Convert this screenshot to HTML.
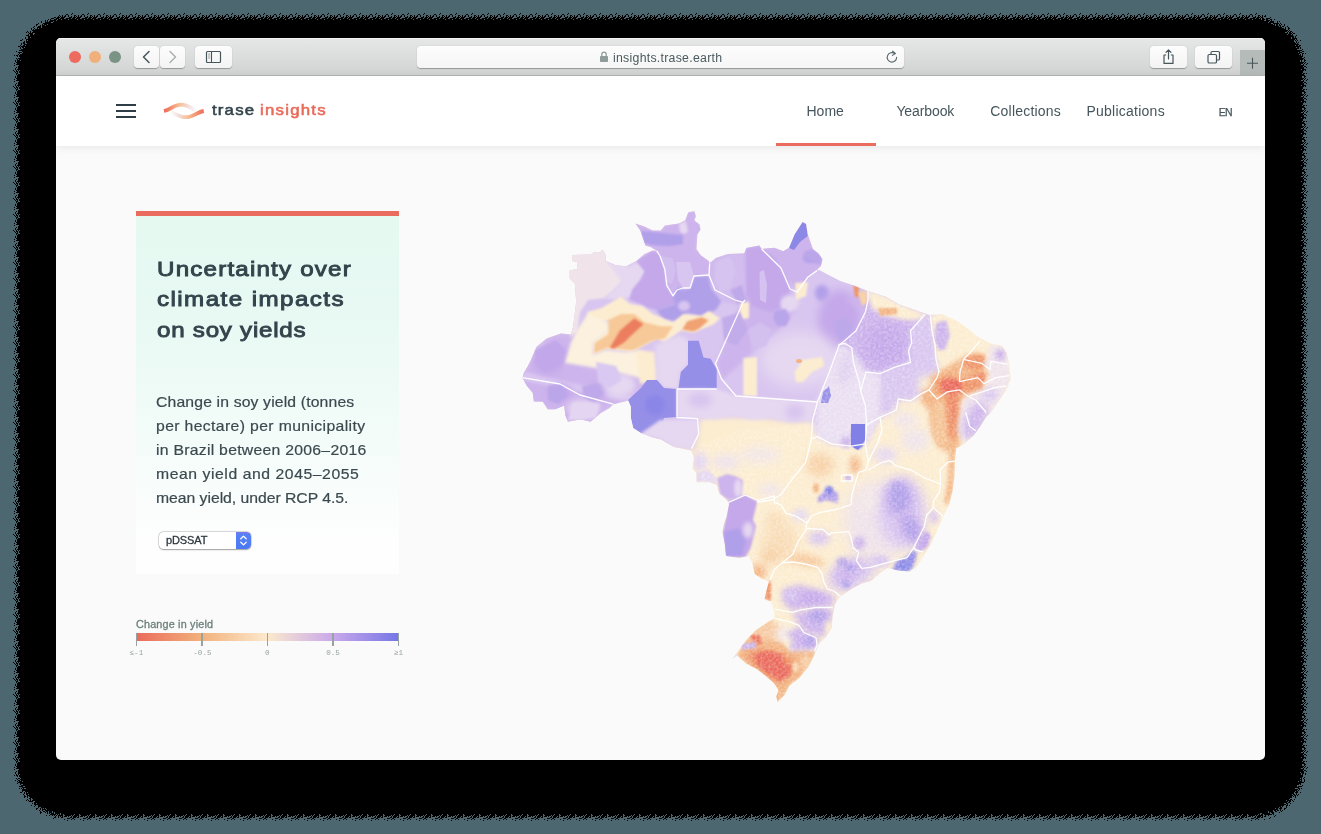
<!DOCTYPE html>
<html lang="en">
<head>
<meta charset="utf-8">
<title>trase insights</title>
<style>
*{box-sizing:border-box;margin:0;padding:0}
html,body{width:1321px;height:834px;overflow:hidden}
body{background:#4c6770;font-family:"Liberation Sans",sans-serif;position:relative}
.abs{position:absolute}
#shadow{left:0;top:0;width:1321px;height:834px}
#win{left:56px;top:38px;width:1209px;height:722px;border-radius:5px;overflow:hidden;background:#fafafa;will-change:transform}
#tb{left:0;top:0;width:1209px;height:38px;background:linear-gradient(#e6e8e7,#d1d3d2);border-bottom:1px solid #b2b7b5;box-shadow:inset 0 1px 0 #f1f2f1}
.tl{width:12px;height:12px;border-radius:50%;top:13px}
.btn{top:8px;height:22px;border-radius:4px;background:linear-gradient(#fdfdfd,#f3f3f3);box-shadow:0 .5px 1px rgba(0,0,0,.3)}
.btn svg{position:absolute;left:0;top:0}
#addr{left:361px;top:8px;width:487px;height:22px;border-radius:4px;background:linear-gradient(#fdfdfd,#f5f5f5);box-shadow:0 .5px 1px rgba(0,0,0,.3)}
#url{left:196px;top:.5px;height:22px;line-height:22px;font-size:12.3px;letter-spacing:.27px;color:#4a5a5e;white-space:nowrap}
#plus{left:1184px;top:12px;width:25px;height:25px;background:#b4bbb9}
#nav{left:0;top:38px;width:1209px;height:70px;background:#fff;box-shadow:0 1px 8px rgba(0,0,0,.085)}
.hb{left:60px;width:20px;height:2px;background:#2e3e47}
.lt{top:23.5px;font-size:15px;line-height:20px;font-weight:normal;white-space:nowrap;transform:scaleX(1.12);transform-origin:0 0}
.nl{top:26.35px;font-size:14px;line-height:18px;color:#45555b;white-space:nowrap}
#ul{left:720px;top:67px;width:100px;height:3px;background:#ea6c5e}
#card{left:80px;top:173px;width:262.6px;height:363px;background:linear-gradient(#e5f9f1 0%,#e8f9f3 30%,#f4fcf9 65%,#fefefe 92%)}
#card .bar{left:0;top:0;width:263px;height:5px;background:#ea6c5e}
.tt{left:20.6px;font-weight:normal;-webkit-text-stroke:.9px #34444c;font-size:21px;line-height:30px;color:#34444c;white-space:nowrap;transform:scaleX(1.15);transform-origin:0 0}
.dd{left:20px;font-size:15px;line-height:24px;color:#3b494f;-webkit-text-stroke:.2px #3b494f;white-space:nowrap;transform:scaleX(1.05);transform-origin:0 0}
#sel{left:23px;top:320.8px;width:91.6px;height:17px;border-radius:4.5px;background:#fff;box-shadow:0 0 0 .5px rgba(0,0,0,.2),0 .5px 1.5px rgba(0,0,0,.3);overflow:hidden}
#sel .t{left:7px;top:-.5px;font-size:11px;line-height:18px;color:#2b373b;letter-spacing:-.1px;-webkit-text-stroke:.3px #2b373b}
#sel .b{right:0;top:0;width:15px;height:17px;background:linear-gradient(#7f78ea 0%,#5680f6 16%,#4a79f5 100%)}
#lg-t{left:80.3px;top:580.1px;font-size:10px;line-height:14px;color:#6c807c;letter-spacing:.17px;-webkit-text-stroke:.3px #6c807c;white-space:nowrap;transform:scaleX(1.08);transform-origin:0 0}
#lg-b{left:80px;top:595.2px;width:263px;height:8px;background:linear-gradient(90deg,#ea6a5c 0%,#f2b27c 25%,#fce9cd 50%,#c9a8ea 75%,#7476e6 100%)}
.tk{top:595.2px;width:1.2px;height:12.8px;background:#97a2a3;margin-left:-.6px}
.tkl{top:609.6px;font-family:"Liberation Mono",monospace;font-size:7.6px;line-height:10px;color:#98a2a2;width:40px;margin-left:-20px;text-align:center;white-space:nowrap}
</style>
</head>
<body>
<svg id="shadow" class="abs" width="1321" height="834" viewBox="0 0 1321 834" shape-rendering="crispEdges">
<defs><pattern id="d1" width="16" height="16" patternUnits="userSpaceOnUse"><path d="M0 0h5v1h-5zM7 0h9v1h-9zM0 1h1v1h-1zM3 1h13v1h-13zM0 2h1v1h-1zM2 2h5v1h-5zM8 2h8v1h-8zM0 3h4v1h-4zM5 3h8v1h-8zM14 3h2v1h-2zM1 4h7v1h-7zM9 4h7v1h-7zM0 5h5v1h-5zM6 5h8v1h-8zM15 5h1v1h-1zM0 6h3v1h-3zM4 6h7v1h-7zM12 6h4v1h-4zM0 7h7v1h-7zM9 7h7v1h-7zM0 8h2v1h-2zM3 8h8v1h-8zM12 8h4v1h-4zM0 9h3v1h-3zM4 9h10v1h-10zM15 9h1v1h-1zM0 10h9v1h-9zM10 10h2v1h-2zM13 10h3v1h-3zM0 11h9v1h-9zM11 11h5v1h-5zM0 12h4v1h-4zM5 12h1v1h-1zM7 12h9v1h-9zM0 13h12v1h-12zM14 13h2v1h-2zM0 14h10v1h-10zM11 14h4v1h-4zM1 15h14v1h-14z" fill="#000"/></pattern><pattern id="d2" width="16" height="16" patternUnits="userSpaceOnUse"><path d="M0 0h3v1h-3zM4 0h1v1h-1zM7 0h6v1h-6zM14 0h2v1h-2zM0 1h1v1h-1zM4 1h4v1h-4zM9 1h7v1h-7zM2 2h5v1h-5zM8 2h3v1h-3zM12 2h4v1h-4zM0 3h4v1h-4zM6 3h3v1h-3zM10 3h3v1h-3zM14 3h2v1h-2zM2 4h6v1h-6zM9 4h1v1h-1zM11 4h5v1h-5zM0 5h4v1h-4zM6 5h5v1h-5zM12 5h2v1h-2zM15 5h1v1h-1zM0 6h1v1h-1zM2 6h1v1h-1zM4 6h1v1h-1zM6 6h5v1h-5zM12 6h4v1h-4zM0 7h2v1h-2zM3 7h4v1h-4zM9 7h6v1h-6zM0 8h2v1h-2zM3 8h4v1h-4zM8 8h3v1h-3zM12 8h2v1h-2zM15 8h1v1h-1zM0 9h2v1h-2zM4 9h2v1h-2zM7 9h7v1h-7zM15 9h1v1h-1zM0 10h4v1h-4zM5 10h4v1h-4zM10 10h2v1h-2zM13 10h2v1h-2zM1 11h8v1h-8zM11 11h2v1h-2zM14 11h2v1h-2zM0 12h4v1h-4zM5 12h1v1h-1zM7 12h5v1h-5zM13 12h1v1h-1zM15 12h1v1h-1zM0 13h6v1h-6zM7 13h3v1h-3zM11 13h1v1h-1zM14 13h2v1h-2zM0 14h8v1h-8zM9 14h1v1h-1zM11 14h1v1h-1zM13 14h2v1h-2zM1 15h6v1h-6zM8 15h1v1h-1zM10 15h5v1h-5z" fill="#000"/></pattern><pattern id="d3" width="16" height="16" patternUnits="userSpaceOnUse"><path d="M0 0h3v1h-3zM4 0h1v1h-1zM7 0h1v1h-1zM9 0h4v1h-4zM14 0h1v1h-1zM0 1h1v1h-1zM5 1h3v1h-3zM9 1h3v1h-3zM13 1h3v1h-3zM2 2h4v1h-4zM8 2h3v1h-3zM12 2h1v1h-1zM14 2h2v1h-2zM0 3h1v1h-1zM2 3h2v1h-2zM6 3h2v1h-2zM10 3h3v1h-3zM14 3h2v1h-2zM2 4h4v1h-4zM7 4h1v1h-1zM9 4h1v1h-1zM11 4h3v1h-3zM15 4h1v1h-1zM1 5h3v1h-3zM6 5h4v1h-4zM12 5h2v1h-2zM15 5h1v1h-1zM0 6h1v1h-1zM2 6h1v1h-1zM4 6h1v1h-1zM6 6h4v1h-4zM13 6h3v1h-3zM0 7h2v1h-2zM3 7h1v1h-1zM6 7h1v1h-1zM9 7h6v1h-6zM0 8h2v1h-2zM3 8h4v1h-4zM8 8h1v1h-1zM10 8h1v1h-1zM12 8h1v1h-1zM15 8h1v1h-1zM0 9h2v1h-2zM4 9h2v1h-2zM7 9h2v1h-2zM10 9h4v1h-4zM0 10h1v1h-1zM2 10h2v1h-2zM5 10h4v1h-4zM10 10h1v1h-1zM13 10h2v1h-2zM1 11h1v1h-1zM4 11h5v1h-5zM11 11h2v1h-2zM14 11h2v1h-2zM1 12h3v1h-3zM5 12h1v1h-1zM8 12h4v1h-4zM13 12h1v1h-1zM15 12h1v1h-1zM0 13h2v1h-2zM3 13h3v1h-3zM8 13h2v1h-2zM11 13h1v1h-1zM14 13h2v1h-2zM0 14h8v1h-8zM9 14h1v1h-1zM13 14h1v1h-1zM1 15h2v1h-2zM4 15h1v1h-1zM6 15h1v1h-1zM8 15h1v1h-1zM10 15h5v1h-5z" fill="#000"/></pattern><pattern id="d4" width="16" height="16" patternUnits="userSpaceOnUse"><path d="M0 0h2v1h-2zM4 0h1v1h-1zM7 0h1v1h-1zM10 0h1v1h-1zM12 0h1v1h-1zM14 0h1v1h-1zM6 1h2v1h-2zM9 1h3v1h-3zM13 1h2v1h-2zM2 2h4v1h-4zM8 2h2v1h-2zM12 2h1v1h-1zM0 3h1v1h-1zM2 3h1v1h-1zM6 3h2v1h-2zM10 3h3v1h-3zM2 4h4v1h-4zM7 4h1v1h-1zM13 4h1v1h-1zM15 4h1v1h-1zM3 5h1v1h-1zM6 5h4v1h-4zM13 5h1v1h-1zM15 5h1v1h-1zM0 6h1v1h-1zM2 6h1v1h-1zM6 6h1v1h-1zM9 6h1v1h-1zM13 6h3v1h-3zM0 7h2v1h-2zM6 7h1v1h-1zM11 7h4v1h-4zM1 8h1v1h-1zM3 8h3v1h-3zM10 8h1v1h-1zM12 8h1v1h-1zM15 8h1v1h-1zM0 9h1v1h-1zM4 9h2v1h-2zM8 9h1v1h-1zM10 9h3v1h-3zM0 10h1v1h-1zM2 10h2v1h-2zM7 10h1v1h-1zM10 10h1v1h-1zM13 10h2v1h-2zM1 11h1v1h-1zM5 11h1v1h-1zM8 11h1v1h-1zM11 11h2v1h-2zM14 11h2v1h-2zM1 12h2v1h-2zM5 12h1v1h-1zM8 12h2v1h-2zM13 12h1v1h-1zM15 12h1v1h-1zM1 13h1v1h-1zM3 13h2v1h-2zM8 13h2v1h-2zM11 13h1v1h-1zM15 13h1v1h-1zM0 14h1v1h-1zM2 14h2v1h-2zM5 14h3v1h-3zM9 14h1v1h-1zM1 15h1v1h-1zM4 15h1v1h-1zM6 15h1v1h-1zM8 15h1v1h-1zM10 15h2v1h-2zM14 15h1v1h-1z" fill="#000"/></pattern><pattern id="d5" width="16" height="16" patternUnits="userSpaceOnUse"><path d="M0 0h2v1h-2zM10 0h1v1h-1zM12 0h1v1h-1zM14 0h1v1h-1zM6 1h2v1h-2zM10 1h1v1h-1zM13 1h2v1h-2zM3 2h3v1h-3zM8 2h2v1h-2zM0 3h1v1h-1zM6 3h2v1h-2zM10 3h2v1h-2zM2 4h2v1h-2zM5 4h1v1h-1zM13 4h1v1h-1zM15 4h1v1h-1zM3 5h1v1h-1zM7 5h1v1h-1zM9 5h1v1h-1zM13 5h1v1h-1zM15 5h1v1h-1zM0 6h1v1h-1zM2 6h1v1h-1zM6 6h1v1h-1zM9 6h1v1h-1zM13 6h1v1h-1zM0 7h1v1h-1zM6 7h1v1h-1zM11 7h2v1h-2zM14 7h1v1h-1zM1 8h1v1h-1zM4 8h2v1h-2zM12 8h1v1h-1zM15 8h1v1h-1zM4 9h1v1h-1zM8 9h1v1h-1zM10 9h3v1h-3zM0 10h1v1h-1zM2 10h1v1h-1zM7 10h1v1h-1zM13 10h2v1h-2zM1 11h1v1h-1zM5 11h1v1h-1zM8 11h1v1h-1zM11 11h2v1h-2zM2 12h1v1h-1zM5 12h1v1h-1zM8 12h2v1h-2zM15 12h1v1h-1zM1 13h1v1h-1zM3 13h2v1h-2zM8 13h1v1h-1zM15 13h1v1h-1zM2 14h2v1h-2zM6 14h2v1h-2zM9 14h1v1h-1zM1 15h1v1h-1zM4 15h1v1h-1zM10 15h2v1h-2zM14 15h1v1h-1z" fill="#000"/></pattern><pattern id="d6" width="16" height="16" patternUnits="userSpaceOnUse"><path d="M0 0h1v1h-1zM10 0h1v1h-1zM12 0h1v1h-1zM6 1h1v1h-1zM13 1h2v1h-2zM3 2h3v1h-3zM0 3h1v1h-1zM7 3h1v1h-1zM10 3h1v1h-1zM2 4h2v1h-2zM5 4h1v1h-1zM9 5h1v1h-1zM13 5h1v1h-1zM15 5h1v1h-1zM6 6h1v1h-1zM9 6h1v1h-1zM13 6h1v1h-1zM6 7h1v1h-1zM11 7h1v1h-1zM14 7h1v1h-1zM4 8h2v1h-2zM12 8h1v1h-1zM4 9h1v1h-1zM10 9h1v1h-1zM12 9h1v1h-1zM0 10h1v1h-1zM2 10h1v1h-1zM7 10h1v1h-1zM1 11h1v1h-1zM8 11h1v1h-1zM11 11h1v1h-1zM8 12h2v1h-2zM15 12h1v1h-1zM1 13h1v1h-1zM8 13h1v1h-1zM15 13h1v1h-1zM2 14h2v1h-2zM7 14h1v1h-1zM1 15h1v1h-1zM11 15h1v1h-1zM14 15h1v1h-1z" fill="#000"/></pattern><pattern id="d7" width="16" height="16" patternUnits="userSpaceOnUse"><path d="M10 0h1v1h-1zM6 1h1v1h-1zM5 2h1v1h-1zM0 3h1v1h-1zM3 4h1v1h-1zM9 5h1v1h-1zM13 6h1v1h-1zM14 7h1v1h-1zM4 8h1v1h-1zM12 9h1v1h-1zM7 10h1v1h-1zM1 11h1v1h-1zM15 12h1v1h-1zM8 13h1v1h-1zM2 14h1v1h-1zM11 15h1v1h-1z" fill="#000"/></pattern></defs>
<rect x="20" y="20" width="1281" height="794" rx="48" ry="48" fill="#000"/>
<rect x="19.5" y="19.5" width="1282" height="795" rx="48.5" ry="48.5" fill="none" stroke="url(#d1)" stroke-width="1"/><rect x="18.5" y="18.5" width="1284" height="797" rx="49.5" ry="49.5" fill="none" stroke="url(#d2)" stroke-width="1"/><rect x="17.5" y="17.5" width="1286" height="799" rx="50.5" ry="50.5" fill="none" stroke="url(#d3)" stroke-width="1"/><rect x="16.5" y="16.5" width="1288" height="801" rx="51.5" ry="51.5" fill="none" stroke="url(#d4)" stroke-width="1"/><rect x="15.5" y="15.5" width="1290" height="803" rx="52.5" ry="52.5" fill="none" stroke="url(#d5)" stroke-width="1"/><rect x="14.5" y="14.5" width="1292" height="805" rx="53.5" ry="53.5" fill="none" stroke="url(#d6)" stroke-width="1"/><rect x="13.5" y="13.5" width="1294" height="807" rx="54.5" ry="54.5" fill="none" stroke="url(#d7)" stroke-width="1"/>
</svg>
<div id="win" class="abs">
  <div id="tb" class="abs">
    <div class="abs tl" style="left:13px;background:#ec6a5e"></div>
    <div class="abs tl" style="left:33px;background:#f0b07b"></div>
    <div class="abs tl" style="left:53px;background:#7a9384"></div>
    <div class="abs btn" style="left:78px;width:25px"><svg width="25" height="22"><path d="M15 5.5 L9.5 11 L15 16.5" fill="none" stroke="#46565b" stroke-width="1.5" stroke-linecap="round" stroke-linejoin="round"/></svg></div>
    <div class="abs btn" style="left:104px;width:25px"><svg width="25" height="22"><path d="M10 5.5 L15.5 11 L10 16.5" fill="none" stroke="#a9b0af" stroke-width="1.5" stroke-linecap="round" stroke-linejoin="round"/></svg></div>
    <div class="abs btn" style="left:139px;width:37px"><svg width="37" height="22"><rect x="11.5" y="5.5" width="14" height="11" rx="1" fill="none" stroke="#46565b" stroke-width="1.2"/><path d="M16.5 5.5V16.5" stroke="#46565b" stroke-width="1.1" fill="none"/><path d="M13.2 8h2M13.2 10h2M13.2 12h2" stroke="#46565b" stroke-width=".8" stroke-opacity=".75" fill="none"/></svg></div>
    <div id="addr" class="abs">
      <svg class="abs" style="left:182px;top:5px" width="10" height="12" viewBox="0 0 10 12"><rect x="1" y="5" width="8" height="6" rx=".8" fill="#8f9c99"/><path d="M2.8 5.2V3.4a2.2 2.2 0 0 1 4.4 0V5.2" fill="none" stroke="#8f9c99" stroke-width="1.2"/></svg>
      <div id="url" class="abs">insights.trase.earth</div>
      <svg class="abs" style="left:468px;top:4px" width="14" height="14" viewBox="0 0 14 14"><path d="M11.6 7.4a4.7 4.7 0 1 1-1.9-3.8" fill="none" stroke="#58686b" stroke-width="1.1" stroke-linecap="round"/><path d="M7.6 1.2 L10.4 3.5 L7.4 5.4" fill="none" stroke="#58686b" stroke-width="1.1" stroke-linecap="round" stroke-linejoin="round"/></svg>
    </div>
    <div class="abs btn" style="left:1094px;width:37px"><svg width="37" height="22"><path d="M16.2 9H14V17.4H23V9H20.8" fill="none" stroke="#46565b" stroke-width="1.2" stroke-linejoin="round"/><path d="M18.5 13V4M16 6.3 L18.5 3.8 L21 6.3" fill="none" stroke="#46565b" stroke-width="1.2" stroke-linecap="round" stroke-linejoin="round"/></svg></div>
    <div class="abs btn" style="left:1139px;width:37px"><svg width="37" height="22"><rect x="13" y="8.5" width="8.5" height="8.5" rx="1.3" fill="none" stroke="#46565b" stroke-width="1.2"/><path d="M16 8.5V6.8a1.3 1.3 0 0 1 1.3-1.3h5.9a1.3 1.3 0 0 1 1.3 1.3v5.9a1.3 1.3 0 0 1-1.3 1.3H21.5" fill="none" stroke="#46565b" stroke-width="1.2"/></svg></div>
    <div id="plus" class="abs"><svg width="25" height="25"><path d="M12.5 7.8V18.8M7 13.3H18" stroke="#46565b" stroke-width="1.1" fill="none"/></svg></div>
  </div>
  <div id="nav" class="abs">
    <div class="abs hb" style="top:28px"></div>
    <div class="abs hb" style="top:34px"></div>
    <div class="abs hb" style="top:40px"></div>
    <svg class="abs" style="left:104px;top:24px" width="48" height="26" viewBox="0 0 48 26">
      <defs>
        <linearGradient id="wa" x1="0" x2="1" y1="0" y2="0"><stop offset="0" stop-color="#ee6a58"/><stop offset=".45" stop-color="#f7b98d"/><stop offset=".8" stop-color="#f3e3e4"/><stop offset="1" stop-color="#f3e9ee" stop-opacity=".3"/></linearGradient>
        <linearGradient id="wb" x1="1" x2="0" y1="0" y2="0"><stop offset="0" stop-color="#ee6a58"/><stop offset=".45" stop-color="#f7b98d"/><stop offset=".8" stop-color="#f3e3e4"/><stop offset="1" stop-color="#f3e9ee" stop-opacity=".3"/></linearGradient>
      </defs>
      <path d="M4 11 C10 10 14 4.6 21 4.6 C28 4.6 31 8 36 10.5" fill="none" stroke="url(#wa)" stroke-width="3.8"/>
      <path d="M43.7 11 C37 12 33 17.2 26 17.2 C19 17.2 16 14 11 11.8" fill="none" stroke="url(#wb)" stroke-width="3.8"/>
    </svg>
    <div class="abs lt" style="left:155.9px;color:#33434b;-webkit-text-stroke:.55px #33434b;letter-spacing:1.05px">trase</div>
    <div class="abs lt" style="left:204px;color:#ea6a5a;-webkit-text-stroke:.55px #ea6a5a;letter-spacing:1.1px">insights</div>
    <div class="abs nl" style="left:750.4px;letter-spacing:.05px">Home</div>
    <div class="abs nl" style="left:840.4px;letter-spacing:-.1px">Yearbook</div>
    <div class="abs nl" style="left:934.3px;letter-spacing:.2px">Collections</div>
    <div class="abs nl" style="left:1030.4px;letter-spacing:.25px">Publications</div>
    <div class="abs nl" style="left:1162.8px;top:27px;font-size:10.5px;letter-spacing:-.7px;-webkit-text-stroke:.25px #45555b">EN</div>
    <div id="ul" class="abs"></div>
  </div>
  <div id="card" class="abs">
    <div class="abs bar"></div>
    <div class="abs tt" style="top:42.9px;letter-spacing:1.04px">Uncertainty over</div>
    <div class="abs tt" style="top:73.4px;letter-spacing:1.25px">climate impacts</div>
    <div class="abs tt" style="top:104.2px;letter-spacing:.65px">on soy yields</div>
    <div class="abs dd" style="top:179.3px;letter-spacing:0.14px">Change in soy yield (tonnes</div>
    <div class="abs dd" style="top:203.3px;letter-spacing:0.35px">per hectare) per municipality</div>
    <div class="abs dd" style="top:227.4px;letter-spacing:0.26px">in Brazil between 2006–2016</div>
    <div class="abs dd" style="top:251.2px;letter-spacing:0.53px">mean yield and 2045–2055</div>
    <div class="abs dd" style="top:275.2px;letter-spacing:-0.03px">mean yield, under RCP 4.5.</div>
    <div id="sel" class="abs"><div class="abs t">pDSSAT</div><div class="abs b"><svg width="15" height="17"><path d="M4.8 6.8 L7.5 4.1 L10.2 6.8M4.8 10.2 L7.5 12.9 L10.2 10.2" fill="none" stroke="#fff" stroke-width="1.3" stroke-linecap="round" stroke-linejoin="round"/></svg></div></div>
  </div>
  <div id="lg-t" class="abs">Change in yield</div>
  <div id="lg-b" class="abs"></div>
  <div class="abs tk" style="left:80.5px"></div><div class="abs tk" style="left:146px"></div><div class="abs tk" style="left:211.5px"></div><div class="abs tk" style="left:277px"></div><div class="abs tk" style="left:342.6px"></div>
  <div class="abs tkl" style="left:80.4px">≤-1</div><div class="abs tkl" style="left:146.4px">-0.5</div><div class="abs tkl" style="left:211.4px">0</div><div class="abs tkl" style="left:277px">0.5</div><div class="abs tkl" style="left:342.6px">≥1</div>
  <!--MAPSTART--><svg class="abs" style="left:0;top:0" width="1209" height="722" viewBox="56 38 1209 722">
<defs><filter id="b0_5" x="-50%" y="-50%" width="200%" height="200%"><feGaussianBlur stdDeviation="0.5"/></filter><filter id="b0_6" x="-50%" y="-50%" width="200%" height="200%"><feGaussianBlur stdDeviation="0.6"/></filter><filter id="b0_7" x="-50%" y="-50%" width="200%" height="200%"><feGaussianBlur stdDeviation="0.7"/></filter><filter id="b0_8" x="-50%" y="-50%" width="200%" height="200%"><feGaussianBlur stdDeviation="0.8"/></filter><filter id="b1" x="-50%" y="-50%" width="200%" height="200%"><feGaussianBlur stdDeviation="1"/></filter><filter id="b1_2" x="-50%" y="-50%" width="200%" height="200%"><feGaussianBlur stdDeviation="1.2"/></filter><filter id="b1_5" x="-50%" y="-50%" width="200%" height="200%"><feGaussianBlur stdDeviation="1.5"/></filter><filter id="b1_6" x="-50%" y="-50%" width="200%" height="200%"><feGaussianBlur stdDeviation="1.6"/></filter><filter id="b1_8" x="-50%" y="-50%" width="200%" height="200%"><feGaussianBlur stdDeviation="1.8"/></filter><filter id="b2" x="-50%" y="-50%" width="200%" height="200%"><feGaussianBlur stdDeviation="2"/></filter><filter id="b2_5" x="-50%" y="-50%" width="200%" height="200%"><feGaussianBlur stdDeviation="2.5"/></filter><filter id="b3" x="-50%" y="-50%" width="200%" height="200%"><feGaussianBlur stdDeviation="3"/></filter><filter id="b3_5" x="-50%" y="-50%" width="200%" height="200%"><feGaussianBlur stdDeviation="3.5"/></filter><filter id="b4" x="-50%" y="-50%" width="200%" height="200%"><feGaussianBlur stdDeviation="4"/></filter><filter id="b5" x="-50%" y="-50%" width="200%" height="200%"><feGaussianBlur stdDeviation="5"/></filter><filter id="b6" x="-50%" y="-50%" width="200%" height="200%"><feGaussianBlur stdDeviation="6"/></filter><filter id="b7" x="-50%" y="-50%" width="200%" height="200%"><feGaussianBlur stdDeviation="7"/></filter><filter id="b8" x="-50%" y="-50%" width="200%" height="200%"><feGaussianBlur stdDeviation="8"/></filter><filter id="tex" x="0" y="0" width="100%" height="100%"><feTurbulence type="fractalNoise" baseFrequency=".38" numOctaves="2" seed="11" result="n"/><feColorMatrix in="n" type="matrix" values="0 0 0 0 1  0 0 0 0 1  0 0 0 0 1  1.6 1.6 0 0 -1.25"/></filter><clipPath id="se"><polygon points="871,285 1030,285 1030,720 700,720 700,445 740,430 812,424 817.4,402 829.4,372 839,345.5 855.8,331 865.4,312 868,300"/></clipPath><clipPath id="br"><polygon points="572,255 591.5,254.6 593.5,252.6 599.6,252.6 602.7,249.5 605.8,255 605.8,261 616,265.2 626.1,266.2 636.3,261.1 644.5,254 652.6,250.5 656.7,250.9 650.6,246.9 645.5,245.8 642.4,236.7 640.4,230.6 635.3,223.4 644.5,226.5 652.6,230.6 660.8,230.6 664.8,225.5 679.1,223.4 685.2,220.4 688.3,212.2 694.4,211.2 695.8,216.3 694.4,220.4 699.5,224.4 700.5,229.5 697.4,234.6 696.4,248.9 700.5,255 708.7,261.1 709.7,263.2 715.8,258.1 728,254 744.3,253.4 746.3,247.9 759.4,245.6 761.6,249 774.2,247.8 783.3,251.3 789,247.8 794.7,234.2 802.6,222.1 806.1,223.9 807.7,234.2 812.9,249 818.6,253.5 822.5,259.2 820.9,266.1 816.3,270.6 819.7,270.2 826.6,274 840.2,280.9 853.9,285.4 867.6,291.1 885.8,296.8 899.5,304.8 913.1,309.3 929.1,315 942.7,314.6 956.4,320.7 967.8,328.7 979.2,337.8 990.6,343.5 1002,345.8 1006.5,352.6 1008.8,361.7 1009.9,373.1 1010.7,379.1 1006.1,390.5 998.1,401.9 991.3,412.1 985.6,417.8 979.9,426.9 973.1,436 964,444 956,448.6 954.9,461.1 954.4,477 952.6,490.7 949.2,504.4 942.3,518 936.6,531.7 931,544 923.8,556 916.6,566.8 909.4,571.5 897.4,570.3 887.8,568 880.6,572.7 871,581.1 861.5,583.5 850.7,589.5 839.9,596.7 835.1,603.9 832.7,615.9 831.5,627.9 825.5,637.5 818.3,644.7 814.7,654.3 808.7,666.2 799.1,678.2 789.5,685.4 784.7,695 777.5,702.2 776.3,696.2 778.7,690.2 773.9,683 765.6,675.8 756,668.6 746.4,663.8 736.8,655.5 732,659.1 735.6,654.3 746.4,639.9 756,630.3 768,621.9 774.7,618.3 773.9,609.9 771.5,601.5 766.8,600.3 764.4,599.1 766.8,589.5 769.1,581.1 762,578.7 754.8,573.9 752.4,563.2 748.8,556 739.2,557.9 726,556 724.8,544 722.4,532 723.6,524.8 726.6,516.2 729.1,503.7 726.6,499.9 719.1,493.6 716.5,484.8 709,482.2 696.4,482.2 696.4,473.4 692.6,468.4 693.9,458.3 691.4,450.8 686.3,449.5 673.7,447 661.1,439.4 651.1,436.9 641,433.1 633.4,428.1 630.9,418 630.9,406.7 628.4,400.4 613.3,404.2 609.5,407.9 600.7,413 590.6,421.8 580.5,419.3 567.9,421.8 565.4,415.5 564.2,405.4 555.3,409.2 547.8,409.2 542.7,401.6 533.9,401.6 532.7,392.8 526.4,385.3 522.6,377.7 523.9,372.7 527.6,366.4 530.4,361 536.5,346.7 546.7,338.5 560.9,333.5 571.1,334.5 573.2,326.3 576.2,301.9 574.8,283.5 569.7,278.4 569.7,270.3 577.2,269.3 577.2,262.1 572.1,261.1"/></clipPath></defs>
<g clip-path="url(#br)">
<rect x="500" y="190" width="540" height="530" fill="#fcedd0"/>
<polygon points="500,190 1030,190 1030,300 940,312 931,316 935,345 937,377 930,390 896,400 880,417 866,443 831,443 817,434 812,420 790,421 760,417 740,417 700,417 694,450 630,440 520,430 500,380" fill="#d9c6f0" filter="url(#b3)"/>
<polygon points="515,385 530,361 546,338 561,333 573,335 570,350 585,366 640,372 650,384 628,400 610,408 590,423 566,423 545,410 530,402" fill="#cdb4ec" filter="url(#b3)"/>
<polygon points="525,372 640,398 640,404 520,380" fill="#d9c6f0" filter="url(#b1_5)"/>
<ellipse cx="548" cy="362" rx="14" ry="12" fill="#c4a8ea" filter="url(#b3)"/>
<ellipse cx="560" cy="392" rx="12" ry="8" fill="#c4a8ea" filter="url(#b3)"/>
<ellipse cx="597" cy="392" rx="10" ry="8" fill="#c4a8ea" filter="url(#b3)"/>
<ellipse cx="583" cy="408" rx="16" ry="8" fill="#e6d8f1" filter="url(#b3)"/>
<ellipse cx="620" cy="385" rx="16" ry="12" fill="#e6d8f1" filter="url(#b3)"/>
<polygon points="568,253 607,248 607,262 617,266 628,267 622,282 612,292 604,298 588,300 580,312 577,332 570,337 575,300 573,284 568,279" fill="#f0e4ea" filter="url(#b1_2)"/>
<polygon points="607,262 617,266 628,267 637,262 646,270 645,282 636,290 628,298 618,300 604,298 612,292 622,282" fill="#e6d8f1" filter="url(#b1_5)"/>
<polygon points="636.3,261.1 652.6,250.5 660.8,254 664.8,269.3 666.9,285.6 673,295.8 677,299.8 675,304 656.7,310 648.6,308 640.4,304 629.2,299.8 632.2,289.6 640.4,279.5 644.5,271.3" fill="#c4a8ea" filter="url(#b0_8)"/>
<polygon points="635,223 645,227 653,231 661,231 665,226 679,223 685,220 688,212 695,211 696,216 694,220 700,224 701,230 697,235 696,249 701,255 709,261 709,275 694,276 690,288 683,290 676,285 672,296 666,285 664,268 660,253 650,246 645,245 642,236" fill="#cdb4ec" filter="url(#b0_8)"/>
<polygon points="641,231 653,232 661,233 683,235 683,244 670,246 652,245 644,243" fill="#b09fe9" filter="url(#b1_2)"/>
<polygon points="679,224 686,221 688,232 684,234 680,232" fill="#e6d8f1" filter="url(#b0_8)"/>
<polygon points="673,296 677,286 683,290 690,288 694,276 709,276 712,288 722,300 716,310 700,316 686,313 683,322 664,320 656,310 675,304" fill="#b09fe9" filter="url(#b1_5)"/>
<ellipse cx="684" cy="306" rx="6" ry="5" fill="#d9c6f0" filter="url(#b1_5)"/>
<polygon points="709,262 716,258 728,254 744,253 746,248 760,246 762,249 774,248 783,251 789,248 795,262 790,285 795,310 780,330 760,345 745,360 722,380 716,365 740,305 722,300 712,288" fill="#cdb4ec" filter="url(#b2)"/>
<polygon points="587.4,312 601.7,308 621,296.8 630.2,303.9 642.4,306 652.6,314 673,322.2 683.2,314 701.5,316 708.7,311 719.9,318.2 713.7,324.3 693.4,332.4 681.1,330.4 664.8,342.6 656.7,338.5 632.2,351.8 605.8,348.7 593.5,354.8 592.5,342.6 607.8,330.4 609.8,320.2 587.4,324.3" fill="#fcedd0" filter="url(#b1)"/>
<polygon points="607.8,320.2 621,314 634.3,314 644.5,322.2 660.8,326.3 673,326.3 664.8,338.5 652.6,340.6 632.2,350.8 607.8,347.7 593.5,353.8 594.6,342.6 607.8,334.5" fill="#f7c998" filter="url(#b1)"/>
<polygon points="609.8,347.7 620,330.4 634.3,318.2 643.5,324.3 632.2,334.5 624.1,342.6 613.9,348.7" fill="#ec7e5e" filter="url(#b0_8)"/>
<polygon points="682.2,329.4 687.3,321.2 701.5,317.2 708.7,320.2 699.5,328.4 693.4,331.4" fill="#f0a272" filter="url(#b0_8)"/>
<polygon points="565,363 571,343 577,330 588,314 608,322 608,332 593,343 593,355 606,350 624,352 640,351 653,357 651,372 640,378 610,370 585,366" fill="#fbf1de" filter="url(#b1_5)"/>
<polygon points="636,350 655,352 657,380 640,384" fill="#fcedd0" filter="url(#b1_5)"/>
<polygon points="655,345 680,335 690,342 688,365 680,372 678,389 664,388 657,380" fill="#e6d8f1" filter="url(#b2)"/>
<polygon points="688,340.8 698.7,340.8 703.5,357.5 710.7,358.7 716.7,369.5 716.7,388.7 678.4,388.7 680.8,372 688,364.7" fill="#968fe8" filter="url(#b0_5)"/>
<polygon points="628,400 641,388 647,380 657,380 664,388 677,389 677,417 664,418 660,432 651,434 641,433 633,428 631,418 631,407" fill="#968fe8" filter="url(#b0_6)"/>
<ellipse cx="655" cy="405" rx="10" ry="10" fill="#8a86e8" filter="url(#b2)"/>
<polygon points="640,434 660,420 690,420 697,419 698,434 691,449 674,447 661,439" fill="#e6d8f1" filter="url(#b1_5)"/>
<polygon points="789,247.8 794.7,234.2 802.6,222.1 806.1,223.9 807.7,234.2 813,249 819,254 822,259 821,266 816,271 810,276 800,290 794,288 780,262 762,249 774,248 783,251" fill="#cdb4ec" filter="url(#b0_8)"/>
<polygon points="789,248 794.7,234.2 802.6,222.1 806.1,223.9 807.7,236 800,242 794,250" fill="#8c88e6" filter="url(#b0_6)"/>
<ellipse cx="810" cy="258" rx="7" ry="5" fill="#b09fe9" filter="url(#b1_5)"/>
<polygon points="746,248 760,246 762,249 775,258 790,289 786,306 770,312 752,306 745,290" fill="#c4a8ea" filter="url(#b1_5)"/>
<polygon points="712,262 728,254 744,253 746,290 740,303 722,300 712,288" fill="#d2bdee" filter="url(#b1_5)"/>
<ellipse cx="789" cy="305" rx="8" ry="7" fill="#e2d4f1" filter="url(#b1_5)"/>
<ellipse cx="822" cy="293" rx="7" ry="8" fill="#b09fe9" filter="url(#b2)"/>
<ellipse cx="790" cy="302" rx="9" ry="7" fill="#e6d8f1" filter="url(#b2)"/>
<polygon points="795,283 808,282 806,296 796,300" fill="#fcedd0" filter="url(#b1_2)"/>
<polygon points="740,303 749,302 749,318 740,320" fill="#fcedd0" filter="url(#b1_2)"/>
<ellipse cx="840" cy="320" rx="22" ry="30" fill="#c4a8ea" filter="url(#b5)"/>
<ellipse cx="800" cy="360" rx="40" ry="28" fill="#e6d8f1" filter="url(#b7)"/>
<polygon points="743.4,358 757,357 757,396 743.4,396" fill="#fcedd0" filter="url(#b1)"/>
<polygon points="794.7,372 803,360 822,357 824,366 812,372 803,382 796,382" fill="#fcedd0" filter="url(#b1_2)"/>
<ellipse cx="799" cy="361" rx="3" ry="2" fill="#f3b382" filter="url(#b0_6)"/>
<polygon points="759.5,272 764,270 767,285 766,303 760,300" fill="#d6c2f0" filter="url(#b0_6)"/>
<polygon points="775,311 786,309 790,318 786,326 777,326 773,318" fill="#b9a5ea" filter="url(#b0_8)"/>
<polygon points="834,321 846,318 853,326 850,338 840,340 835,332" fill="#bda9ea" filter="url(#b1_2)"/>
<polygon points="804,252 812,249 819,254 822,259 821,265 812,262 805,258" fill="#bba6ea" filter="url(#b0_8)"/>
<polygon points="660,256 672,258 676,270 672,284 667,282 664,268" fill="#d2bfef" filter="url(#b0_6)"/>
<polygon points="676,262 690,262 694,276 690,288 683,288 678,280" fill="#d8c6f1" filter="url(#b0_6)"/>
<polygon points="716,262 730,256 736,270 730,290 720,292 714,280" fill="#d6c3f0" filter="url(#b0_8)"/>
<polygon points="730,290 742,285 746,300 738,304" fill="#bfa9ea" filter="url(#b0_8)"/>
<polygon points="722,318 740,312 748,330 736,346 724,340" fill="#c2acea" filter="url(#b1)"/>
<polygon points="748,330 760,322 772,330 766,346 752,350" fill="#d3c0ef" filter="url(#b1)"/>
<polygon points="596,362 616,366 622,380 610,388 598,382" fill="#d9c8f1" filter="url(#b0_8)"/>
<polygon points="535,350 556,340 566,350 562,366 545,372 535,364" fill="#c2a8ea" filter="url(#b1)"/>
<polygon points="548,386 562,384 568,396 558,404 548,400" fill="#bca6ea" filter="url(#b0_8)"/>
<polygon points="582,386 598,384 604,394 594,402 584,398" fill="#bfa9ea" filter="url(#b0_8)"/>
<polygon points="574,402 600,404 596,418 580,420 568,420" fill="#e4d6f2" filter="url(#b0_8)"/>
<polygon points="677,389 717,389 736,396 817,402 812,421 790,422 770,418 752,420 735,416 715,419 697,419 677,417" fill="#e6d8f1" filter="url(#b1_6)"/>
<ellipse cx="700" cy="400" rx="12" ry="8" fill="#d9c6f0" filter="url(#b3)"/>
<ellipse cx="795" cy="412" rx="10" ry="8" fill="#d9c6f0" filter="url(#b3)"/>
<polygon points="845,300 868,292 880,318 925,314 911,331 912,343 909,351 911,362 894,367 880,374 866,372 858,360 846,346 840,346 856,331 865,312" fill="#cdb4ec" filter="url(#b2_5)"/>
<ellipse cx="885" cy="345" rx="22" ry="22" fill="#c4a8ea" filter="url(#b6)"/>
<ellipse cx="917" cy="360" rx="6" ry="8" fill="#b09fe9" filter="url(#b2_5)"/>
<polygon points="866,290 886,296 900,304 913,309 929,315 924,320 905,320 888,316 872,308" fill="#fcedd0" filter="url(#b2)"/>
<polygon points="853,285 859,287 859,297 855,297" fill="#ef9468" filter="url(#b0_8)"/>
<polygon points="858,292 866,291 868,302 862,306" fill="#f8d2a8" filter="url(#b1)"/>
<polygon points="878,308 897,308 897,314 880,316" fill="#f3b382" filter="url(#b1_2)"/>
<polygon points="925,314 931,316 935,345 937,377 929,390 921,394 911,401 898,399 896,410 880,417 880,374 894,367 911,362 909,351 912,343 911,331" fill="#d9c6f0" filter="url(#b3)"/>
<ellipse cx="928" cy="385" rx="10" ry="10" fill="#fcedd0" filter="url(#b4)"/>
<polygon points="840,346 846,346 858,360 866,372 880,374 880,417 866,443 851,446 832,444 817,437 817,402 829,372 839,346" fill="#eadff2" filter="url(#b2_5)"/>
<ellipse cx="846" cy="368" rx="8" ry="18" fill="#e0d2f0" filter="url(#b4)" transform="rotate(15 846 368)"/>
<polygon points="821,403 823,392 829,386 831,396 828,403" fill="#968fe8" filter="url(#b0_6)"/>
<ellipse cx="858" cy="437" rx="7" ry="12" fill="#8080e6" filter="url(#b1_2)"/>
<polygon points="931,316 943,314.6 956,320.7 968,328.7 979,338 970,353 963,360 950,362 937,360 935,345" fill="#fcedd0" filter="url(#b1_5)"/>
<polygon points="936,323 946,320 950,335 945,350 938,350 934,338" fill="#cdb4ec" filter="url(#b1_8)"/>
<polygon points="931,376 945,368 962,358 975,352 986,356 984,370 990,372 982,392 968,397 962,400 962,420 959,448 950,453 938,447 931,432 929,410 921,402 921,392 929,387" fill="#f3b382" filter="url(#b2_5)"/>
<polygon points="933,404 946,400 948,446 938,444 932,428" fill="#f5c495" filter="url(#b2)"/>
<polygon points="936,380 950,374 960,380 975,374 984,372 982,388 968,392 960,394 958,420 956,440 948,436 946,410 944,396 936,392" fill="#ef9468" filter="url(#b2)"/>
<polygon points="941,381 950,378 961,381 961,392 956,394 956,418 951,424 949,396 942,392" fill="#ee8866" filter="url(#b1_8)"/>
<polygon points="941,382 950,379 962,382 961,391 950,393 942,391" fill="#ea6a5c" filter="url(#b1_5)"/>
<polygon points="976,375 983,373 984,380 978,383" fill="#ea6a5c" filter="url(#b1_2)"/>
<polygon points="965,357 984,355 986,368 972,370 964,366" fill="#ef9468" filter="url(#b1_5)"/>
<polygon points="962,386 980,374 984,378 970,392" fill="#ef9468" filter="url(#b1_2)"/>
<polygon points="990,344 1002,346 1007,353 1009,362 1010,373 1011,379 1006,390 998,402 991,412 986,418 980,427 973,436 964,444 958,430 962,400 970,394 984,390 990,372 984,366 988,356" fill="#f0e4ea" filter="url(#b2)"/>
<ellipse cx="975" cy="420" rx="10" ry="20" fill="#cdb4ec" filter="url(#b4)" transform="rotate(25 975 420)"/>
<ellipse cx="1000" cy="355" rx="5" ry="6" fill="#cdb4ec" filter="url(#b2)"/>
<ellipse cx="990" cy="395" rx="8" ry="6" fill="#d9c6f0" filter="url(#b3)"/>
<polygon points="950,448 956,448 955,461 954,477 953,491 949,504 944,504 948,480 949,460" fill="#f3b382" filter="url(#b2)"/>
<ellipse cx="915" cy="440" rx="14" ry="12" fill="#f0e4ea" filter="url(#b5)"/>
<ellipse cx="905" cy="420" rx="12" ry="8" fill="#f0e4ea" filter="url(#b4)"/>
<ellipse cx="885" cy="455" rx="12" ry="8" fill="#e6d8f1" filter="url(#b4)"/>
<ellipse cx="880" cy="520" rx="36" ry="40" fill="#efe2ea" filter="url(#b8)"/>
<ellipse cx="902" cy="512" rx="24" ry="36" fill="#d9c6f0" filter="url(#b6)"/>
<ellipse cx="899" cy="500" rx="15" ry="20" fill="#cdb4ec" filter="url(#b4)"/>
<ellipse cx="900" cy="499" rx="10" ry="15" fill="#b09fe9" filter="url(#b3_5)"/>
<ellipse cx="897" cy="490" rx="5" ry="7" fill="#b09fe9" filter="url(#b2_5)"/>
<ellipse cx="910" cy="528" rx="11" ry="18" fill="#cdb4ec" filter="url(#b4)" transform="rotate(-25 910 528)"/>
<ellipse cx="911" cy="528" rx="7" ry="13" fill="#b09fe9" filter="url(#b3_5)" transform="rotate(-25 911 528)"/>
<ellipse cx="859" cy="543" rx="6" ry="7" fill="#cdb4ec" filter="url(#b2_5)"/>
<ellipse cx="880" cy="560" rx="8" ry="4" fill="#d9c6f0" filter="url(#b2_5)"/>
<polygon points="892,571 896,562 906,557 913,550 917,553 915,562 908,571 900,573" fill="#968fe8" filter="url(#b1_5)"/>
<ellipse cx="905" cy="566" rx="8" ry="5" fill="#8a8ae8" filter="url(#b2)"/>
<polygon points="915,548 920,538 927,531 931,536 928,546 921,552" fill="#c4a8ea" filter="url(#b1_8)"/>
<ellipse cx="934" cy="517" rx="4" ry="7" fill="#d9c6f0" filter="url(#b2_5)"/>
<polygon points="818,497 828,488 838,493 838,503 826,500 818,503" fill="#b09fe9" filter="url(#b1_5)"/>
<ellipse cx="829" cy="490" rx="4" ry="4" fill="#8080e6" filter="url(#b1_5)"/>
<ellipse cx="846" cy="442" rx="5" ry="6" fill="#cdb4ec" filter="url(#b2)"/>
<ellipse cx="820" cy="465" rx="14" ry="12" fill="#f8d2a8" filter="url(#b5)"/>
<ellipse cx="855" cy="465" rx="5" ry="9" fill="#f3b382" filter="url(#b3)"/>
<ellipse cx="816" cy="488" rx="3" ry="5" fill="#f3b382" filter="url(#b1_5)"/>
<ellipse cx="848" cy="478" rx="3" ry="3" fill="#cdb4ec" filter="url(#b1_2)"/>
<ellipse cx="805" cy="560" rx="20" ry="6" fill="#f6c99c" filter="url(#b3)" transform="rotate(10 805 560)"/>
<ellipse cx="780" cy="542" rx="18" ry="20" fill="#f9dcb6" filter="url(#b6)"/>
<ellipse cx="770" cy="556" rx="10" ry="8" fill="#f7d0a4" filter="url(#b4)"/>
<ellipse cx="775" cy="520" rx="10" ry="8" fill="#f9dcb6" filter="url(#b4)"/>
<polygon points="765,581 771,581 771,601 764.4,599.1" fill="#ef9468" filter="url(#b1)"/>
<ellipse cx="758" cy="572" rx="8" ry="8" fill="#f3b382" filter="url(#b3_5)"/>
<ellipse cx="800" cy="515" rx="8" ry="6" fill="#e6d8f1" filter="url(#b3)"/>
<polygon points="696,473 709,470 716,478 716,485 709,482 696,482" fill="#e6d8f1" filter="url(#b1_2)"/>
<ellipse cx="819" cy="538" rx="11" ry="7" fill="#d9c6f0" filter="url(#b3_5)"/>
<ellipse cx="852" cy="574" rx="26" ry="15" fill="#d9c6f0" filter="url(#b6)" transform="rotate(-25 852 574)"/>
<ellipse cx="848" cy="572" rx="16" ry="10" fill="#cdb4ec" filter="url(#b4)" transform="rotate(-25 848 572)"/>
<ellipse cx="842" cy="562" rx="5" ry="4" fill="#b09fe9" filter="url(#b2)"/>
<ellipse cx="850" cy="568" rx="5" ry="4" fill="#b09fe9" filter="url(#b2)"/>
<ellipse cx="846" cy="584" rx="5" ry="4" fill="#b09fe9" filter="url(#b2)"/>
<ellipse cx="880" cy="562" rx="10" ry="5" fill="#d9c6f0" filter="url(#b3)"/>
<polygon points="782.3,589.5 799,584.7 816,589.5 825.5,592 835,596.7 832.7,606.3 801.5,608.7 792,611 782.3,601.5" fill="#cdb4ec" filter="url(#b3)"/>
<ellipse cx="812" cy="598" rx="12" ry="6" fill="#c4a8ea" filter="url(#b3)"/>
<ellipse cx="792" cy="595" rx="6" ry="5" fill="#d9c6f0" filter="url(#b3)"/>
<polygon points="792,613.5 816,608.7 832.7,608.7 831.5,625.5 825.5,636.3 816,636.3 804,631.5 799,624.3" fill="#cdb4ec" filter="url(#b3)"/>
<ellipse cx="818" cy="616" rx="9" ry="6" fill="#b09fe9" filter="url(#b3)"/>
<ellipse cx="829" cy="628" rx="4" ry="8" fill="#fcedd0" filter="url(#b2_5)"/>
<polygon points="736.8,655.5 746.4,639.9 756,630.3 768,626 780,640 789.5,650.7 813.5,650.7 814.7,654.3 808.7,666.2 799.1,678.2 789.5,685.4 784.7,695 777.5,702.2 774,700 776,690 765.6,675.8 756,668.6 746.4,663.8" fill="#f3b382" filter="url(#b1_6)"/>
<polygon points="746,623 770,618 782,628 780,642 760,640 748,640" fill="#f6caa2" filter="url(#b2_5)"/>
<ellipse cx="784" cy="634" rx="9" ry="8" fill="#f4e8e4" filter="url(#b3)"/>
<polygon points="745,654 760,648 775,652 790,656 796,664 790,676 780,684 770,680 760,672 750,664" fill="#ef9468" filter="url(#b2)"/>
<polygon points="753.6,654.3 768,650.7 782.3,654.3 784.7,663.8 792,666 789.5,675.8 780,680.6 768,673.4 758.4,666.2" fill="#ea6a5c" filter="url(#b1_6)"/>
<polygon points="748.8,635 759.6,635 762,643.5 756,644.7" fill="#ec7860" filter="url(#b1_2)"/>
<ellipse cx="795.5" cy="667" rx="3" ry="5" fill="#f9dcb8" filter="url(#b1_5)"/>
<ellipse cx="806" cy="662" rx="5" ry="8" fill="#f8d2a8" filter="url(#b2_5)"/>
<polygon points="787,632.7 799,626.7 811,635 818.3,640 816,649.5 789.5,650.7 792,640" fill="#cdb4ec" filter="url(#b2_5)"/>
<ellipse cx="810" cy="641" rx="6" ry="5" fill="#b09fe9" filter="url(#b2_5)"/>
<polygon points="741,644 756,642 756,648 742,650" fill="#cdb4ec" filter="url(#b0_8)"/>
<polygon points="732,659 736,654 740,657 736,660" fill="#e6d8f1" filter="url(#b0_5)"/>
<ellipse cx="760" cy="455" rx="20" ry="8" fill="#f3e6e6" filter="url(#b5)"/>
<ellipse cx="770" cy="490" rx="12" ry="6" fill="#f1e4ea" filter="url(#b4)"/>
<ellipse cx="868" cy="500" rx="8" ry="12" fill="#f3e7e8" filter="url(#b5)"/>
<ellipse cx="726" cy="462" rx="14" ry="8" fill="#f0e2ea" filter="url(#b4)"/>
<ellipse cx="700" cy="462" rx="8" ry="10" fill="#e6d8f1" filter="url(#b3)"/>
<g clip-path="url(#se)"><rect x="500" y="190" width="540" height="530" filter="url(#tex)" opacity=".3"/></g>
<polygon points="851,424 865,424 865,440 858,450 851,446" fill="#8080e6" filter="url(#b0_7)"/>
<polygon points="728,500.4 745.3,495 757.2,501.5 752.9,519.8 756,526.3 750.7,547.9 745.3,557.6 724.8,556.5 722.7,532.8 725.9,517.7" fill="#c4a8ea" filter="url(#b0_8)"/>
<polygon points="724,532 740,528 746,540 742,556 725,556" fill="#b09fe9" filter="url(#b1_5)"/>
<ellipse cx="748" cy="530" rx="5" ry="8" fill="#e6d8f1" filter="url(#b2)"/>
<polygon points="717,478 727,474 735,476 743,480 741,498 728,500 720,494" fill="#cdb4ec" filter="url(#b1_2)"/>
<ellipse cx="738" cy="488" rx="4" ry="9" fill="#e6d8f1" filter="url(#b1_5)"/>
<g fill="none" stroke="#fff" stroke-width="1.3" stroke-opacity=".96" stroke-linejoin="round"><polyline points="743,302.4 715.5,363.5 721.5,379 736,396 817.4,402"/><polyline points="677,389 716.7,389"/><polyline points="677,389 677,417.5 697.5,418.7 698.7,434 691.5,448.6"/><polyline points="817.4,402 829.4,372 839,345.5 855.8,331 865.4,312 868,300 868,291"/><polyline points="838.2,344.6 845,343.5 851.6,347.5 853.5,362.8 859.3,382 860.6,391 865.4,405.5 866.6,424.7 865.4,443.8"/><polyline points="817.4,402 812.6,420 811.4,439 805.4,463 793.4,477.4 781.5,494.2 772,500 757,502"/><polyline points="811.4,439 817.4,436.7 831.8,443.8 851,446.2 865.4,443.8"/><polyline points="841.4,475 852.2,475 852.2,481 841.4,481 841.4,475"/><polyline points="924.8,314.5 910.6,330.8 911.6,343 908.5,351 910.6,362.3 894.3,367.4 880,373.6 866,372 860.6,391"/><polyline points="930.5,315.5 932,330.8 935,345 936,359.3 939,371.5 937,377.6"/><polyline points="937,377.6 929,389.9 920.8,393.9 910.6,401 898.3,399 896.3,410.2 880,417.4 866.6,424.7"/><polyline points="929,390 937,399 947.3,391.9 959.5,389.9 967.6,396 975.8,400 986,412.3"/><polyline points="979.9,341 969.7,353 963.6,359.3 982,363.4 990,369.5 991,361.3 1008.4,364.4"/><polyline points="963.6,359.3 960,372 959.5,381.7 977.8,377.6 984,383.7 996.2,377.6 1009.4,375.6"/><polyline points="969.7,396 994,387.8 1006.4,385.8"/><polyline points="965.6,412.3 969.7,426.5 975.8,430.6"/><polyline points="709.7,263.2 709,275 715,290 735,300 743,302.4 745,300"/><polyline points="656.7,250.9 660,256 664.8,269.3 666.9,285.6 673,295.8 677,290 683,288 690,288 694,276 709,275"/><polyline points="522.6,377.7 560,384 580,395 613.3,404.2"/><polyline points="761.6,249 781,268 790,289 797,292 808,277 817,270.6"/><polyline points="728,502.6 745.3,495 758.3,500.4 774.4,496 774.4,502.6 780.9,504.7 786.3,513.4 797,516.6 806.8,523 805.7,530.6 798.2,541.4 792.8,554.3 782,563 774.4,569.4 770,580"/><polyline points="806.8,523 812.2,515.5 820.8,512.3 838,509 851,504.7 852,494 855.3,483 858.6,472.4 866,470 868.3,461.6 866,448.6 865.4,443.8"/><polyline points="868.3,470 881.2,462.7 889.9,460.5 896.3,465.9 911.4,470.2 924.4,477.8 933,481 940.6,484.2 939.5,491.8 934,500.4 933,506.9 937.3,511.2 943,516"/><polyline points="933,508 926.5,515.5 924.4,526.3 917.9,539.2 913.6,547.9 915.7,550 923,552"/><polyline points="913.6,547.9 907,557.6 889.9,561.9 879,565 870.4,567.3 861.8,568.4 856.4,560.8 858.6,552.2 853.2,547.9 851,537 848.9,531.7 831.6,532.8 829.4,535 823,529.5 806.8,528.5"/><polyline points="782,563 792.8,562 805.7,564 817.6,567.3 822,573.8 824,582.4 827.3,588.9 833.8,591 840,596"/><polyline points="774.7,609.2 791.9,612.3 801.5,609.9 815.9,607.5 832.7,607.5"/><polyline points="774.7,618.3 789.5,621.9 799.1,625.5 803.9,632.7 815.9,637.5 817.1,644.7 814.7,650.7"/><polyline points="880,417.4 882,430 878,442 868.3,461.6"/><polyline points="954.9,461.1 948,462 940,470 940.6,484.2"/></g>
</g>
</svg><!--MAPEND-->
</div>
</body>
</html>
